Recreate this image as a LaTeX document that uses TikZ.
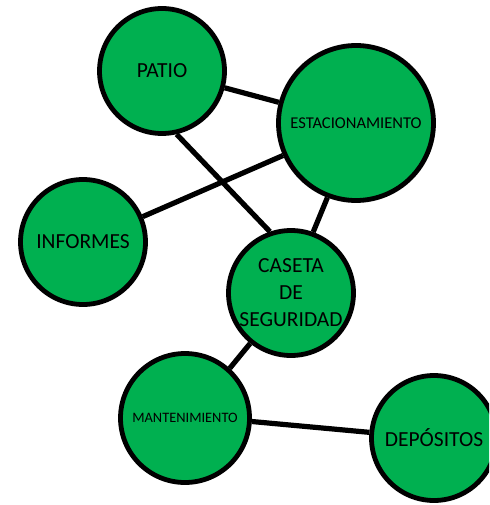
\documentclass[tikz,border=0pt]{standalone}
\usepackage{fontspec}
\setmainfont{Carlito}
\usepackage{tikz}
\usetikzlibrary{positioning}
\definecolor{zonegreen}{HTML}{00B050}

\begin{document}
\begin{tikzpicture}[
    x=1pt, y=-1pt,
    zone/.style={circle, draw, fill=zonegreen, line width=4.8pt,
                 minimum size=125pt, inner sep=0pt, align=center,
                 font=\fontsize{21.5}{27}\selectfont},
    link/.style={line width=5.2pt}
]
\useasboundingbox (0,0) rectangle (489,505);
\clip (0,0) rectangle (489,505);

\node[zone] (patio) at (162,71) {PATIO};
\node[zone, minimum size=155pt, font=\fontsize{16.5}{20}\selectfont]
     (est) at (356,123) {ESTACIONAMIENTO};
\node[zone] (inf) at (83,242) {INFORMES};
\node[zone] (caseta) at (291,293) {CASETA\\DE\\SEGURIDAD};
\node[zone, minimum size=129pt, font=\fontsize{14.4}{18}\selectfont]
     (mant) at (185,418) {MANTENIMIENTO};
\node[zone] (dep) at (434,438) {DEPÓSITOS};

\draw[link] (patio.-15) -- (est.165);
\draw[link] (patio.-77) -- (caseta.109);
\draw[link] (inf.23) -- (est.204);
\draw[link] (est.249) -- (caseta.70);
\draw[link] (caseta.231) -- (mant.48);
\draw[link] (mant.-3) -- (dep.175);
\end{tikzpicture}
\end{document}
